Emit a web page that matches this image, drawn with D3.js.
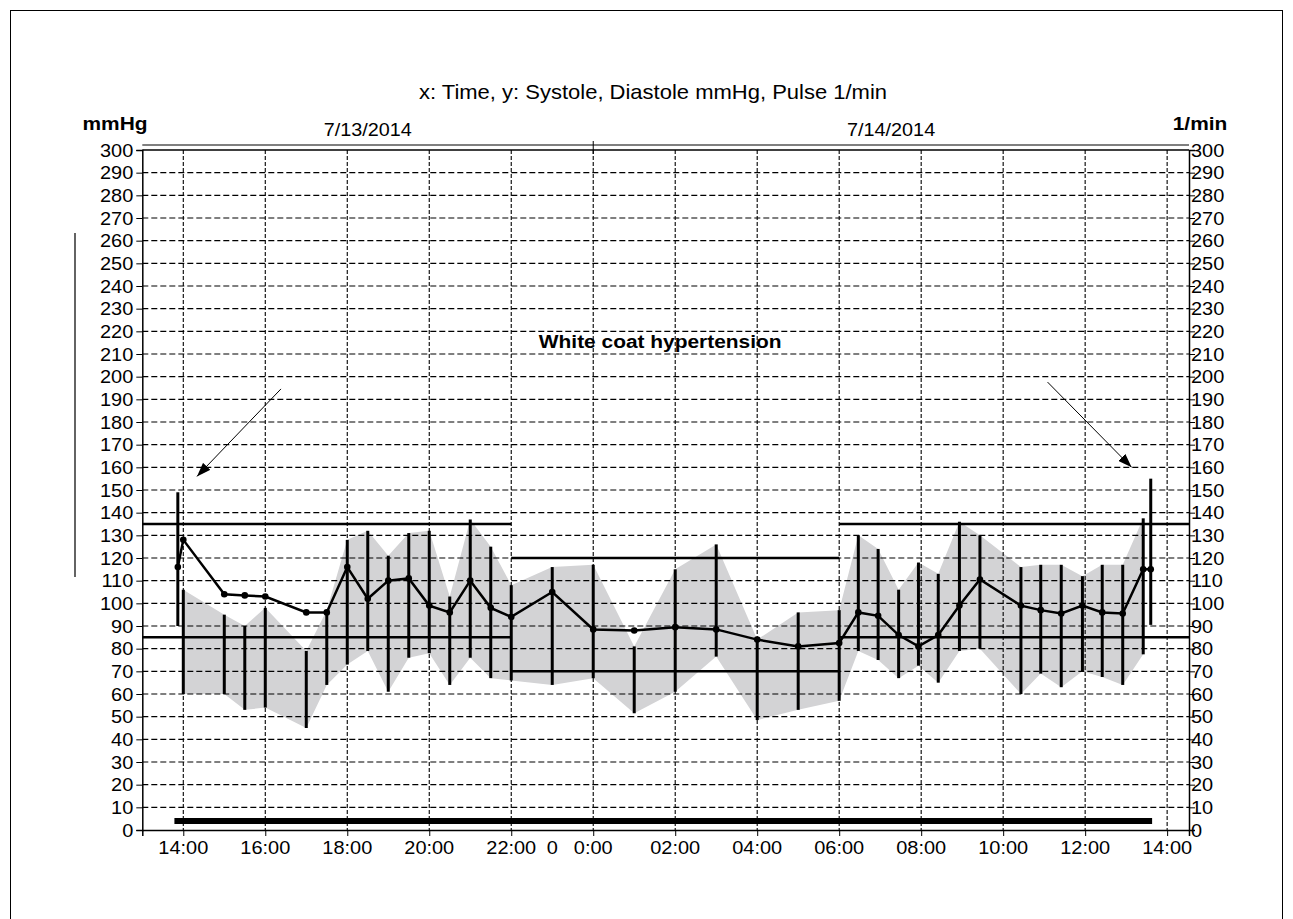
<!DOCTYPE html>
<html>
<head>
<meta charset="utf-8">
<script src="https://cdn.jsdelivr.net/npm/d3@7"></script>
<style>
  body { margin: 0; background: #fff; }
  text { font-family: "Liberation Sans", Arial, sans-serif; fill: #000; }
</style>
</head>
<body>
<div id="chart"></div>
<script>
const times = ["2014-07-13T13:52","2014-07-13T14:00","2014-07-13T15:00","2014-07-13T15:30","2014-07-13T16:00",
  "2014-07-13T17:00","2014-07-13T17:30","2014-07-13T18:00","2014-07-13T18:30","2014-07-13T19:00",
  "2014-07-13T19:30","2014-07-13T20:00","2014-07-13T20:30","2014-07-13T21:00","2014-07-13T21:30",
  "2014-07-13T22:00","2014-07-13T23:00","2014-07-14T00:00","2014-07-14T01:00","2014-07-14T02:00",
  "2014-07-14T03:00","2014-07-14T04:00","2014-07-14T05:00","2014-07-14T06:00","2014-07-14T06:28",
  "2014-07-14T06:57","2014-07-14T07:27","2014-07-14T07:56","2014-07-14T08:25","2014-07-14T08:56",
  "2014-07-14T09:26","2014-07-14T10:26","2014-07-14T10:55","2014-07-14T11:25","2014-07-14T11:56",
  "2014-07-14T12:25","2014-07-14T12:55","2014-07-14T13:25","2014-07-14T13:36"];
const systole = [149,106,95,90,98,79,97,128,132,121,131,132,103,137,125,108,116,117,81,115,
  126,84,96,97,130,124,106,118,113,136,130,116,117,117,112,117,117,137.5,155];
const diastole = [90,60,60,53,54,45,64,73,79,61,76,78,64,76,67,66,64,67,51.5,61,
  76.5,48.5,53,57,79,75,67,72.5,65,79,80,60,69,63,70,67.5,64,77.5,90.5];
const pulse = [116,128,104,103.5,103,96,96,116,102,110,111,99,96,110,98,94,105,88.5,88,89.5,
  88.5,84,81,82.5,96,94.5,86,81,86,99,110.5,99,97,95.5,99,96,95.5,115,115];
// first and last are the office readings (white coat), not part of the band
const officeReadings = [0, 38];

// day / night limits
const periodStart = ["2014-07-13T13:00","2014-07-13T22:00","2014-07-14T06:00"];
const periodEnd   = ["2014-07-13T22:00","2014-07-14T06:00","2014-07-14T14:32"];
const limitSys = [135, 120, 135];
const limitDia = [85, 70, 85];

// recording period bar
const recordStart = "2014-07-13T13:47";
const recordEnd = "2014-07-14T13:38";
const recordLevel = 4;

const xTickTimes = ["2014-07-13T14:00","2014-07-13T16:00","2014-07-13T18:00","2014-07-13T20:00",
  "2014-07-13T22:00","2014-07-14T00:00","2014-07-14T02:00","2014-07-14T04:00","2014-07-14T06:00",
  "2014-07-14T08:00","2014-07-14T10:00","2014-07-14T12:00","2014-07-14T14:00"];
const xTickLabels = ["14:00","16:00","18:00","20:00","22:00","0:00","02:00","04:00","06:00",
  "08:00","10:00","12:00","14:00"];
const dates = ["7/13/2014", "7/14/2014"];
const yTicks = d3.range(0, 301, 10);

const parse = d3.timeParse("%Y-%m-%dT%H:%M");
const W = 1293, H = 919;
const SX = 1.1; // text in the picture is a bit wide
const FONT = 18;

const svg = d3.select('#chart').append('svg')
  .attr('width', W).attr('height', H);

const x = d3.scaleTime()
  .domain([parse("2014-07-13T13:00"), parse("2014-07-14T14:32")])
  .range([142.3, 1189]);
const y = d3.scaleLinear().domain([0, 300]).range([830, 150]);
const [x0, x1] = x.range();

function label(sel, px, py, s, anchor, size, weight, sx) {
  return sel.append('text')
    .attr('transform', 'translate(' + px + ',' + py + ') scale(' + (sx || SX) + ',1)')
    .attr('text-anchor', anchor || 'middle')
    .style('font-size', (size || FONT) + 'px')
    .style('font-weight', weight || 'normal')
    .text(s);
}

// page frame + stray line on the left
svg.append('rect').attr('x', 10.5).attr('y', 10.5).attr('width', 1272).attr('height', 1000)
  .attr('fill', 'none').attr('stroke', '#000').attr('stroke-width', 1);
svg.append('line').attr('x1', 75).attr('x2', 75).attr('y1', 233).attr('y2', 577)
  .attr('stroke', '#222').attr('stroke-width', 1.4);

const g = svg.append('g');

// grey band between systole and diastole
const bandData = times.map((t, i) => ({t: parse(t), s: systole[i], d: diastole[i]}))
  .filter((d, i) => !officeReadings.includes(i));
const area = d3.area()
  .x(d => x(d.t)).y0(d => y(d.d)).y1(d => y(d.s));
g.append('path').datum(bandData).attr('d', area).attr('fill', '#d3d3d5');

// grid
g.selectAll('.hgrid').data(yTicks.filter(v => v > 0 && v < 300)).enter()
  .append('line').attr('class', 'hgrid')
  .attr('x1', x0).attr('x2', x1)
  .attr('y1', d => y(d)).attr('y2', d => y(d))
  .attr('stroke', '#000').attr('stroke-width', 1.1).attr('stroke-dasharray', '6,3');
g.selectAll('.vgrid').data(xTickTimes).enter()
  .append('line').attr('class', 'vgrid')
  .attr('x1', d => x(parse(d))).attr('x2', d => x(parse(d)))
  .attr('y1', y(300)).attr('y2', y(0))
  .attr('stroke', '#000').attr('stroke-width', 1.1).attr('stroke-dasharray', '4,2');

// axes (ticks via d3, labels drawn stretched)
const axL = g.append('g').attr('transform', 'translate(' + x0 + ',0)')
  .call(d3.axisLeft(y).tickValues(yTicks).tickSize(6).tickFormat(''));
const axR = g.append('g').attr('transform', 'translate(' + x1 + ',0)')
  .call(d3.axisRight(y).tickValues(yTicks).tickSize(6).tickFormat(''));
const axB = g.append('g').attr('transform', 'translate(0,' + y(0) + ')')
  .call(d3.axisBottom(x).tickValues(xTickTimes.map(parse)).tickSize(6).tickFormat(''));
[axL, axR, axB].forEach(a => {
  a.select('.domain').attr('stroke', '#000').attr('stroke-width', 1.5);
  a.selectAll('.tick line').attr('stroke', '#000').attr('stroke-width', 1);
});
// top double line
g.append('line').attr('x1', x0).attr('x2', x1).attr('y1', y(300)).attr('y2', y(300))
  .attr('stroke', '#000').attr('stroke-width', 1.5);
g.append('line').attr('x1', x0).attr('x2', x1).attr('y1', y(300) - 5).attr('y2', y(300) - 5)
  .attr('stroke', '#000').attr('stroke-width', 1);
const midnight = x(parse("2014-07-14T00:00"));
g.append('line').attr('x1', midnight).attr('x2', midnight).attr('y1', y(300) - 9).attr('y2', y(300) + 4)
  .attr('stroke', '#000').attr('stroke-width', 1);

yTicks.forEach(v => {
  label(g, x0 - 9, y(v) + 6.8, v, 'end', 19, 'normal', 1.05);
  label(g, x1 + 2, y(v) + 6.8, v, 'start', 19, 'normal', 1.05);
});
xTickTimes.forEach((t, i) => label(g, x(parse(t)), 854, xTickLabels[i], 'middle', 19, 'normal', 1.05));
label(g, x(parse("2014-07-13T23:00")), 854, "0", 'middle', 19, 'normal', 1.05);

// headers
label(svg, 653, 99, "x: Time, y: Systole, Diastole mmHg, Pulse 1/min", 'middle', 20);
label(svg, 115, 130, "mmHg", 'middle', 19, 'bold');
label(svg, 1200, 130, "1/min", 'middle', 19, 'bold');
label(svg, (x0 + midnight) / 2, 136, dates[0]);
label(svg, (midnight + x1) / 2, 136, dates[1]);

// day/night limit lines
periodStart.forEach((s, i) => {
  [limitSys[i], limitDia[i]].forEach(v => {
    g.append('line')
      .attr('x1', x(parse(s))).attr('x2', x(parse(periodEnd[i])))
      .attr('y1', y(v)).attr('y2', y(v))
      .attr('stroke', '#000').attr('stroke-width', 2.5);
  });
});

// systole-diastole bars
g.selectAll('.bp').data(times).enter()
  .append('line').attr('class', 'bp')
  .attr('x1', d => x(parse(d))).attr('x2', d => x(parse(d)))
  .attr('y1', (d, i) => y(systole[i])).attr('y2', (d, i) => y(diastole[i]))
  .attr('stroke', '#000').attr('stroke-width', 3);

// pulse
const pulseData = times.map((t, i) => ({t: parse(t), p: pulse[i]}));
g.append('path').datum(pulseData)
  .attr('d', d3.line().x(d => x(d.t)).y(d => y(d.p)))
  .attr('fill', 'none').attr('stroke', '#000').attr('stroke-width', 2.5);
g.selectAll('.pdot').data(pulseData).enter()
  .append('circle').attr('class', 'pdot')
  .attr('cx', d => x(d.t)).attr('cy', d => y(d.p)).attr('r', 3.3).attr('fill', '#000');

// recording bar
g.append('line')
  .attr('x1', x(parse(recordStart))).attr('x2', x(parse(recordEnd)))
  .attr('y1', y(recordLevel)).attr('y2', y(recordLevel))
  .attr('stroke', '#000').attr('stroke-width', 6);

// annotation
const defs = svg.append('defs');
defs.append('marker').attr('id', 'arrow')
  .attr('markerUnits', 'userSpaceOnUse')
  .attr('markerWidth', 14).attr('markerHeight', 10)
  .attr('viewBox', '0 0 14 10').attr('refX', 14).attr('refY', 5)
  .attr('orient', 'auto')
  .append('path').attr('d', 'M0,0 L14,5 L0,10 z').attr('fill', '#000');
const arrows = [
  {from: ["2014-07-13T16:23", 194.6], to: ["2014-07-13T14:20", 156]},
  {from: ["2014-07-14T11:05", 197.6], to: ["2014-07-14T13:08", 160]}
];
arrows.forEach(a => {
  g.append('line')
    .attr('x1', x(parse(a.from[0]))).attr('y1', y(a.from[1]))
    .attr('x2', x(parse(a.to[0]))).attr('y2', y(a.to[1]))
    .attr('stroke', '#000').attr('stroke-width', 1)
    .attr('marker-end', 'url(#arrow)');
});
label(g, x(parse("2014-07-14T01:38")), y(212.5), "White coat hypertension", 'middle', 19, 'bold');
</script>
</body>
</html>
